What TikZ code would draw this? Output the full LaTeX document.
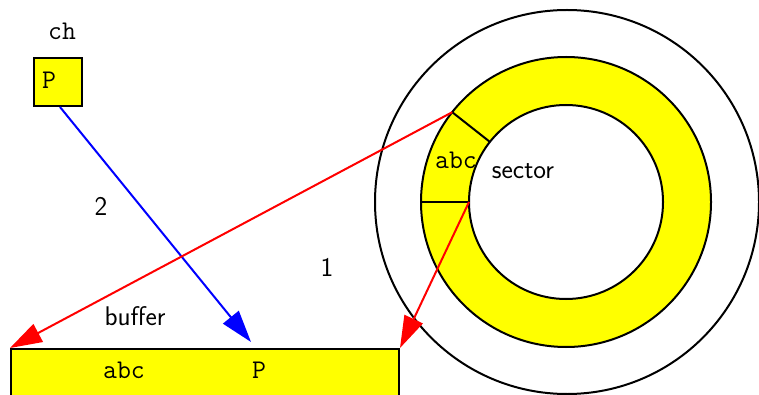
\documentclass[tikz,border=0pt]{standalone}
\usetikzlibrary{arrows.meta}
\definecolor{yel}{RGB}{255,255,0}
\definecolor{rd}{RGB}{255,0,0}
\definecolor{bl}{RGB}{0,0,255}
\begin{document}
\begin{tikzpicture}[x=1pt,y=-1pt,
  lbl/.style={font=\fontsize{27}{30}\selectfont\sffamily, inner sep=0pt},
  mono/.style={font=\fontsize{27}{30}\selectfont\ttfamily, inner sep=0pt},
  box/.style={draw, fill=yel, line width=2pt},
  outl/.style={line width=2pt},
  arr/.style={-{Triangle[length=32pt,width=20pt]}, line width=2pt}]
\useasboundingbox (0,0) rectangle (759,395);
% outer disk
\draw[outl] (567,202) circle[radius=192pt];
% yellow ring
\fill[yel, even odd rule] (566,202) circle[radius=145pt] (566,202) circle[radius=97pt];
\draw[outl] (566,202) circle[radius=145pt];
\draw[outl] (566,202) circle[radius=97pt];
\draw[outl] (452.2,112.2) -- (489.9,141.9);
\draw[outl] (421,202) -- (469,202);
\coordinate (sA) at (452.2,112.2);
\coordinate (sB) at (469,202);
\node[mono] (sabc) at (456,160) {abc};
\node[lbl] (sec) at (523,171) {sector};
% ch
\node[mono] (chl) at (62,31) {ch};
\node[box, minimum width=48pt, minimum height=48pt, anchor=north west, inner sep=0pt] (ch) at (33,57) {};
\node[mono] (chP) at (49,80) {P};
% buffer
\node[box, minimum width=388pt, minimum height=70pt, anchor=north west, inner sep=0pt] (buf) at (10,348) {};
\node[lbl] (bufl) at (135,316) {buffer};
\node[mono] (babc) at (124,370) {abc};
\node[mono] (bP) at (259,370) {P};
\coordinate (bPt) at (251,342);
% edges
\draw[arr, bl] ([xshift=2pt]ch.south) -- (bPt);
\draw[arr, rd] (sA) -- (buf.north west);
\draw[arr, rd] (sB) -- (buf.north east);
\node[lbl] (e2) at (101,206) {2};
\node[lbl] (e1) at (327,267) {1};
\end{tikzpicture}
\end{document}
